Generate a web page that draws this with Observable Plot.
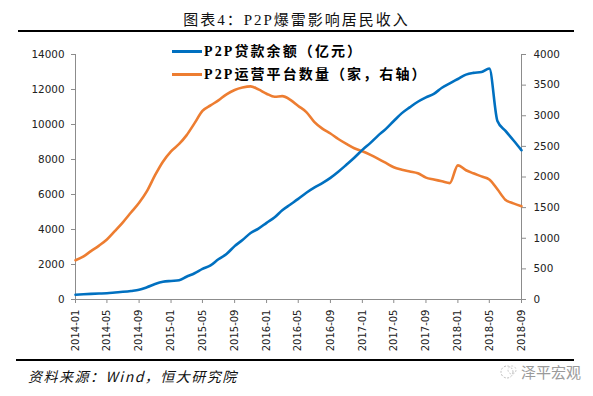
<!DOCTYPE html>
<html>
<head>
<meta charset="utf-8">
<script src="https://cdn.jsdelivr.net/npm/d3@7"></script>
<script src="https://cdn.jsdelivr.net/npm/@observablehq/plot@0.6"></script>
<style>
  html, body { margin: 0; padding: 0; background: #fff; }
  #wrap { position: relative; width: 593px; height: 396px; overflow: hidden; background: #fff; }
  #title { position: absolute; left: 0; width: 593px; top: 8px; text-align: center;
    font-family: "Liberation Serif", "Noto Sans CJK SC", serif; font-size: 15px; letter-spacing: 2px; color: #111; }
  .rule { position: absolute; height: 2px; background: #000; }
  #chart { position: absolute; left: 0; top: 34px; }
  .leg { position: absolute; left: 172px; font-family: "Liberation Serif", "Noto Sans CJK SC", serif;
    font-weight: bold; font-size: 14px; letter-spacing: 2.1px; color: #000; white-space: nowrap; }
  .leg span.sw { display: inline-block; width: 30px; height: 3px; vertical-align: middle; margin-right: 2px; position: relative; top: -1px; }
  #caption { position: absolute; left: 28px; top: 366px; font-family: "Noto Sans CJK SC", sans-serif;
    font-style: italic; font-size: 14px; letter-spacing: 1.5px; color: #111; }
  #mark { position: absolute; left: 500px; top: 361px; font-family: "Noto Sans CJK SC", sans-serif;
    font-size: 15px; color: #9a9a9a; white-space: nowrap; }
</style>
</head>
<body>
<div id="wrap">
  <div id="title">图表4：P2P爆雷影响居民收入</div>
  <div class="rule" style="left:18px; width:556px; top:30px;"></div>
  <div id="chart"></div>
  <div class="leg" style="top:40px;"><span class="sw" style="background:#0070C0"></span>P2P贷款余额（亿元）</div>
  <div class="leg" style="top:63px;"><span class="sw" style="background:#ED7D31"></span>P2P运营平台数量（家，右轴）</div>
  <div class="rule" style="left:16px; width:558px; top:359px;"></div>
  <div id="caption">资料来源：Wind，恒大研究院</div>
  <div id="mark"><svg width="18" height="16" style="vertical-align:-2px;margin-right:3px"><circle cx="7" cy="8" r="6" fill="none" stroke="#bbb" stroke-width="1" stroke-dasharray="2 1.5"/><circle cx="12" cy="6" r="4" fill="none" stroke="#ccc" stroke-width="1" stroke-dasharray="2 1.5"/></svg>泽平宏观</div>
</div>
<script>
// Monthly data, 2014-01 .. 2018-09
const startMonth = "2014-01";
const loanBalance = [ // P2P贷款余额（亿元）, left axis
  270, 300, 320, 340, 360, 400, 440, 490, 555, 700,
  880, 1010, 1060, 1100, 1300, 1500, 1750, 1950, 2300, 2600,
  3050, 3400, 3800, 4050, 4380, 4700, 5100, 5430, 5750, 6100,
  6390, 6650, 6950, 7300, 7700, 8100, 8550, 8950, 9350, 9750,
  10200, 10650, 10980, 11300, 11550, 11750, 12100, 12350, 12600, 12850,
  12950, 13000, 13200, 10200, 9650, 9100, 8530
];
const platformCount = [ // P2P运营平台数量（家）, right axis
  640, 705, 790, 880, 980, 1120, 1260, 1420, 1580, 1770,
  2030, 2250, 2420, 2540, 2680, 2880, 3080, 3170, 3250, 3350,
  3420, 3460, 3480, 3430, 3360, 3310, 3320, 3260, 3160, 3060,
  2900, 2790, 2710, 2620, 2540, 2470, 2420, 2360, 2300, 2230,
  2160, 2120, 2090, 2060, 1990, 1960, 1930, 1900, 2190, 2110,
  2060, 2010, 1960, 1800, 1630, 1570, 1524
];
const xTickLabels = ["2014-01","2014-05","2014-09","2015-01","2015-05","2015-09","2016-01","2016-05",
  "2016-09","2017-01","2017-05","2017-09","2018-01","2018-05","2018-09"];
const leftTicks = [0, 2000, 4000, 6000, 8000, 10000, 12000, 14000];
const rightTicks = [0, 500, 1000, 1500, 2000, 2500, 3000, 3500, 4000];
const leftMax = 14000, rightMax = 4000;

const parse = d3.utcParse("%Y-%m");
const fmt = d3.utcFormat("%Y-%m");
const t0 = parse(startMonth);
const k = leftMax / rightMax;
const rows = loanBalance.map((v, i) => ({
  date: d3.utcMonth.offset(t0, i),
  loan: v,
  plat: platformCount[i] * k
}));

const chart = Plot.plot({
  width: 593,
  height: 322,
  marginTop: 20,
  marginBottom: 57,
  marginLeft: 75,
  marginRight: 72,
  style: { background: "transparent", fontFamily: "'DejaVu Sans', sans-serif", color: "#222" },
  x: { type: "utc", domain: [parse(xTickLabels[0]), parse(xTickLabels[xTickLabels.length - 1])], axis: null },
  y: { domain: [0, leftMax], axis: null },
  marks: [
    Plot.axisX(xTickLabels.map(parse), {
      anchor: "bottom", tickFormat: fmt, tickRotate: -90, tickSize: 4, tickPadding: 6,
      stroke: "#8c8c8c", fontSize: 10, fill: "#222", fontFamily: "'DejaVu Sans', sans-serif"
    }),
    Plot.axisY(leftTicks, {
      anchor: "left", tickSize: 4, tickPadding: 7, stroke: "#8c8c8c", tickFormat: d => String(d),
      fontSize: 10.4, fill: "#222", fontFamily: "'DejaVu Sans', sans-serif"
    }),
    Plot.axisY(rightTicks.map(d => d * k), {
      anchor: "right", tickSize: 4, tickPadding: 8, stroke: "#8c8c8c", tickFormat: d => String(Math.round(d / k)),
      fontSize: 10.4, fill: "#222", fontFamily: "'DejaVu Sans', sans-serif"
    }),
    Plot.ruleX([parse(xTickLabels[0])], { stroke: "#8c8c8c" }),
    Plot.ruleX([parse(xTickLabels[xTickLabels.length - 1])], { stroke: "#8c8c8c" }),
    Plot.ruleY([0], { stroke: "#8c8c8c" }),
    Plot.line(rows, { x: "date", y: "plat", stroke: "#ED7D31", strokeWidth: 2.6, curve: "monotone-x" }),
    Plot.line(rows, { x: "date", y: "loan", stroke: "#0070C0", strokeWidth: 2.6, curve: "monotone-x" })
  ]
});
document.getElementById("chart").appendChild(chart);
</script>
</body>
</html>
